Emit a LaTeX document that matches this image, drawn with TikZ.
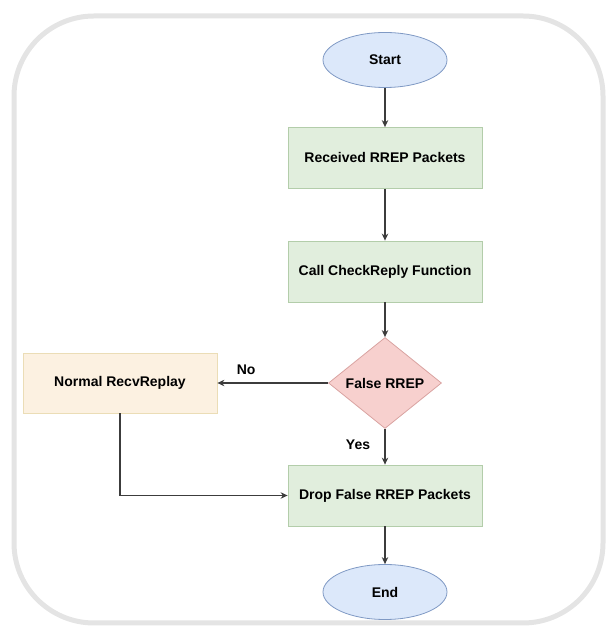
\documentclass[tikz,border=0pt]{standalone}
\usepackage{fontspec}
\setmainfont{Liberation Sans}
\usetikzlibrary{shapes.geometric,arrows.meta}
\definecolor{FrameGray}{HTML}{E4E4E4}
\definecolor{LinkGray}{HTML}{3C3C3C}
\definecolor{TermBlue}{HTML}{DCE8FA}
\definecolor{TermBlueLine}{HTML}{7F99C4}
\definecolor{ProcGreen}{HTML}{E1EEDD}
\definecolor{ProcGreenLine}{HTML}{B3CDAA}
\definecolor{CheckRed}{HTML}{F7D0CE}
\definecolor{CheckRedLine}{HTML}{D9A3A1}
\definecolor{SideOrange}{HTML}{FCF1E1}
\definecolor{SideOrangeLine}{HTML}{EBDDB6}

\begin{document}
\begin{tikzpicture}[
  x=1pt,y=1pt,font=\fontsize{14}{16}\selectfont\bfseries,
  link/.style={-{Stealth[length=7pt,width=6.5pt]},draw=LinkGray,line width=1.1pt},
  terminal/.style={ellipse,draw=TermBlueLine,fill=TermBlue,line width=0.8pt,
    minimum width=124pt,minimum height=55pt,inner sep=0pt},
  process/.style={rectangle,draw=ProcGreenLine,fill=ProcGreen,line width=0.8pt,
    minimum width=194pt,minimum height=61pt,inner sep=0pt},
  sidebox/.style={rectangle,draw=SideOrangeLine,fill=SideOrange,line width=0.8pt,
    minimum width=194pt,minimum height=60pt,inner sep=0pt},
  decision/.style={diamond,draw=CheckRedLine,fill=CheckRed,line width=0.8pt,
    aspect=1.24,minimum width=113pt,minimum height=91pt,inner sep=0pt},
]
\useasboundingbox (0,0) rectangle (605,626);
\draw[FrameGray,line width=5pt,rounded corners=80pt] (14,3) rectangle (603,610);

\node[terminal] (start) at (385,566) {Start};
\node[process] (recv) at (385,468) {Received RREP Packets};
\node[process] (check) at (385,354.5) {Call CheckReply Function};
\node[decision] (falserrep) at (385,243) {False RREP};
\node[sidebox] (normal) at (120,243) {Normal RecvReplay};
\node[process] (drop) at (385,130.5) {Drop False RREP Packets};
\node[terminal] (finish) at (385,34) {End};

\draw[link] (start) -- (recv);
\draw[link] (recv) -- (check);
\draw[link] (check) -- (falserrep);
\draw[link] (falserrep.west) -- node[pos=0.74,above=4pt] {No} (normal.east);
\draw[link] (falserrep.south) -- node[pos=0.45,left=11pt] {Yes} (drop.north);
\draw[link] (normal.south) |- (drop.west);
\draw[link] (drop) -- (finish);
\end{tikzpicture}
\end{document}
